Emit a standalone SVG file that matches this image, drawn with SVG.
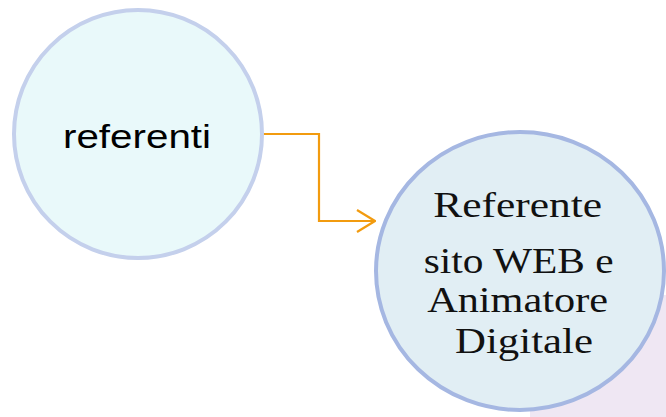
<svg xmlns="http://www.w3.org/2000/svg" width="666" height="417" viewBox="0 0 666 417">
  <defs>
    <style>
      .sans { font-family: "Liberation Sans", Arial, sans-serif; fill: #000; }
      .serif { font-family: "Liberation Serif", "Times New Roman", serif; fill: #111; }
      .link { fill: none; stroke: #F29B0F; stroke-width: 2.2; }
    </style>
    <marker id="open-arrow" viewBox="0 0 20 24" refX="19" refY="12" markerWidth="20" markerHeight="24" markerUnits="userSpaceOnUse" orient="auto">
      <path d="M1,1 L19,12 L1,23" fill="none" stroke="#F29B0F" stroke-width="2.2"/>
    </marker>
  </defs>

  <rect width="666" height="417" fill="#FFFFFF"/>
  <!-- lavender panel peeking out behind the right node -->
  <rect x="530" y="295" width="136" height="122" fill="#EFE7F3"/>

  <g id="connectors">
    <path class="link" d="M263,134 H319 V221 H375" marker-end="url(#open-arrow)"/>
  </g>

  <g id="node-referenti">
    <circle cx="138" cy="134" r="124" fill="#E9F9FA" stroke="#C4D0EC" stroke-width="4"/>
    <text class="sans" x="137" y="148" font-size="34" text-anchor="middle" textLength="148" lengthAdjust="spacingAndGlyphs">referenti</text>
  </g>

  <g id="node-referente-web">
    <ellipse cx="520" cy="271" rx="144" ry="139" fill="#E1EEF4" stroke="#A5B7E2" stroke-width="4"/>
    <text class="serif" font-size="35" text-anchor="middle">
      <tspan x="522" y="217" textLength="169" lengthAdjust="spacingAndGlyphs">Referente</tspan>
      <tspan x="523" y="273" textLength="190" lengthAdjust="spacingAndGlyphs">sito WEB e</tspan>
      <tspan x="522" y="312" textLength="181" lengthAdjust="spacingAndGlyphs">Animatore</tspan>
      <tspan x="524" y="353" textLength="138" lengthAdjust="spacingAndGlyphs">Digitale</tspan>
    </text>
  </g>
</svg>
